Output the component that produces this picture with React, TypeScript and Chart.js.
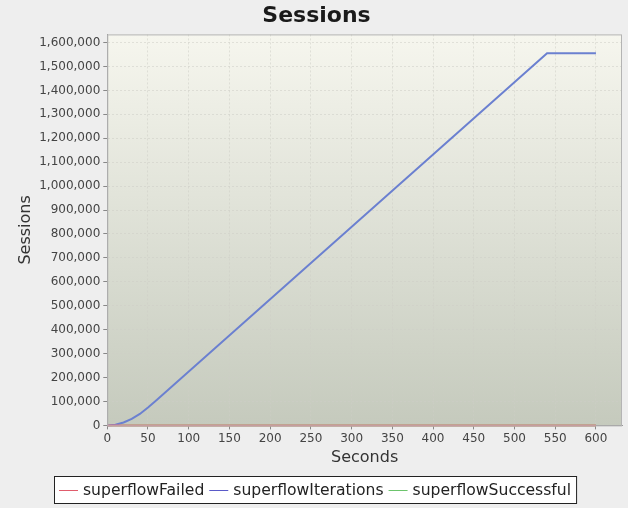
import React, { useEffect, useRef } from "react";
import { Chart, registerables } from "chart.js";

Chart.register(...registerables);

const chartTitle = "Sessions";
const xAxisTitle = "Seconds";
const yAxisTitle = "Sessions";

const seconds = [0, 10, 20, 30, 40, 50, 60, 540, 600];
const superflowIterations = [0, 3000, 12000, 27000, 48000, 75000, 104000, 1555000, 1555000];
const superflowFailed = [0, 0, 0, 0, 0, 0, 0, 0, 0];
const superflowSuccessful = [0, 0, 0, 0, 0, 0, 0, 0, 0];

const xTicks = [0, 50, 100, 150, 200, 250, 300, 350, 400, 450, 500, 550, 600];
const yTicks = [
  0, 100000, 200000, 300000, 400000, 500000, 600000, 700000, 800000,
  900000, 1000000, 1100000, 1200000, 1300000, 1400000, 1500000, 1600000,
];

const seriesNames = ["superflowFailed", "superflowIterations", "superflowSuccessful"];
const seriesColors = ["#e27a84", "#6b80d0", "#7ccf7c"];
const legendColors = ["#e05c6c", "#5a5ac8", "#6cc46c"];

const X_MAX = 632;
const Y_MAX = 1634000;

const FONT = "'DejaVu Sans', sans-serif";

const bgPlugin = {
  id: "bgPlugin",
  beforeDraw(chart: any) {
    const { ctx, chartArea, width, height } = chart;
    ctx.save();
    ctx.fillStyle = "#eeeeee";
    ctx.fillRect(0, 0, width, height);
    const g = ctx.createLinearGradient(0, chartArea.top, 0, chartArea.bottom);
    g.addColorStop(0, "#f6f6ee");
    g.addColorStop(1, "#c5cabd");
    ctx.fillStyle = g;
    ctx.fillRect(chartArea.left, chartArea.top, chartArea.right - chartArea.left, chartArea.bottom - chartArea.top);
    ctx.restore();
  },
  afterDraw(chart: any) {
    const { ctx, chartArea } = chart;
    ctx.save();
    ctx.strokeStyle = "#b4b4b4";
    ctx.lineWidth = 1;
    ctx.strokeRect(chartArea.left + 0.5, chartArea.top + 0.5, chartArea.right - chartArea.left - 1, chartArea.bottom - chartArea.top);
    ctx.restore();

    // legend
    ctx.save();
    ctx.font = `15.6px ${FONT}`;
    ctx.textBaseline = "middle";
    const ds = chart.data.datasets;
    const sample = 19;
    const gapText = 5;
    const gapItem = 5;
    const pad = 5;
    let total = 0;
    const widths = ds.map((d: any) => ctx.measureText(d.label).width);
    widths.forEach((w: number, i: number) => {
      total += sample + gapText + w + (i < widths.length - 1 ? gapItem : 0);
    });
    const boxW = total + pad * 2;
    const boxLeft = Math.round(chart.width / 2 - boxW / 2) + 1;
    const boxTop = 476;
    const boxH = 27;
    ctx.fillStyle = "#ffffff";
    ctx.fillRect(boxLeft, boxTop, boxW, boxH);
    ctx.strokeStyle = "#222";
    ctx.lineWidth = 1;
    ctx.strokeRect(boxLeft + 0.5, boxTop + 0.5, boxW, boxH);
    const cy = boxTop + boxH / 2 + 0.5;
    let x = boxLeft + pad;
    ds.forEach((d: any, i: number) => {
      ctx.strokeStyle = legendColors[i];
      ctx.lineWidth = 1;
      ctx.beginPath();
      ctx.moveTo(x, Math.round(cy) + 0.5);
      ctx.lineTo(x + sample, Math.round(cy) + 0.5);
      ctx.stroke();
      ctx.fillStyle = "#222";
      ctx.fillText(d.label, x + sample + gapText, cy + 1);
      x += sample + gapText + widths[i] + gapItem;
    });
    ctx.restore();
  },
};

export default function App() {
  const ref = useRef<HTMLCanvasElement | null>(null);

  useEffect(() => {
    document.body.style.margin = "0";
    const canvas = ref.current;
    if (!canvas) return;
    const series = [superflowFailed, superflowIterations, superflowSuccessful];
    const chart = new Chart(canvas, {
      type: "line",
      data: {
        datasets: series.map((vals, i) => ({
          label: seriesNames[i],
          data: seconds.map((s, j) => ({ x: s, y: vals[j] })),
          borderColor: seriesColors[i],
          backgroundColor: seriesColors[i],
          borderWidth: 2,
          pointRadius: 0,
          pointHoverRadius: 0,
          tension: 0,
          fill: false,
          clip: 3,
        })),
      },
      options: {
        animation: false,
        responsive: false,
        devicePixelRatio: 1,
        events: [],
        layout: { padding: { left: 11, right: 6, top: 0, bottom: 41 } },
        plugins: {
          legend: { display: false },
          tooltip: { enabled: false },
          title: {
            display: true,
            text: chartTitle,
            color: "#1a1a1a",
            font: { family: FONT, size: 22, weight: "bold" },
            padding: { top: 3, bottom: 5 },
          },
        },
        scales: {
          x: {
            type: "linear",
            min: 0,
            max: X_MAX,
            afterBuildTicks(scale: any) {
              scale.ticks = xTicks.map((v) => ({ value: v }));
            },
            ticks: {
              color: "#444",
              font: { family: FONT, size: 12 },
              padding: 2,
              maxRotation: 0,
              autoSkip: false,
            },
            grid: {
              color: "rgba(205,205,198,0.55)",
              lineWidth: 1,
              tickLength: 4,
              tickColor: "#888",
              tickBorderDash: [],
            },
            border: { display: true, color: "#999", dash: [2, 2] },
            title: {
              display: true,
              text: xAxisTitle,
              color: "#333",
              font: { family: FONT, size: 16 },
              padding: { top: 0, bottom: 0 },
            },
          },
          y: {
            type: "linear",
            min: 0,
            max: Y_MAX,
            afterBuildTicks(scale: any) {
              scale.ticks = yTicks.map((v) => ({ value: v }));
            },
            ticks: {
              color: "#444",
              font: { family: FONT, size: 12 },
              padding: 3,
              autoSkip: false,
              callback: (v: any) => Number(v).toLocaleString("en-US"),
            },
            grid: {
              color: "rgba(205,205,198,0.55)",
              lineWidth: 1,
              tickLength: 4,
              tickColor: "#888",
              tickBorderDash: [],
            },
            border: { display: true, color: "#999", dash: [2, 2] },
            title: {
              display: true,
              text: yAxisTitle,
              color: "#333",
              font: { family: FONT, size: 16 },
              padding: { top: 5, bottom: 1 },
            },
          },
        },
      } as any,
      plugins: [bgPlugin],
    });
    return () => chart.destroy();
  }, []);

  return (
    <div style={{ width: 628, height: 508 }}>
      <canvas ref={ref} width={628} height={508} style={{ display: "block" }} />
    </div>
  );
}
